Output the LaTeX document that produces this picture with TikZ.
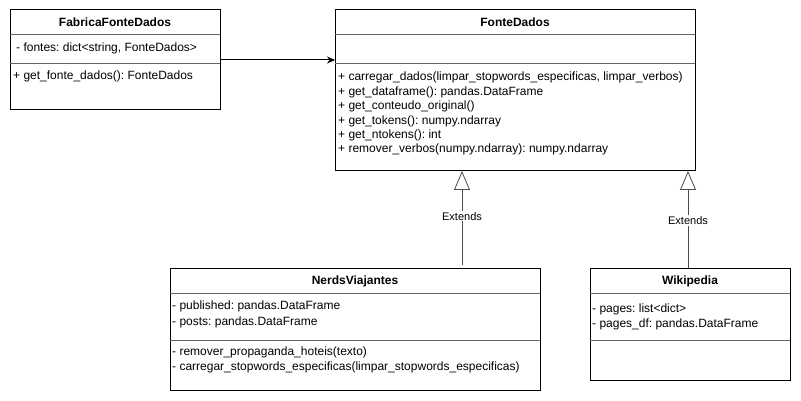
\documentclass[tikz,border=0pt]{standalone}
\usepackage{fontspec}
\setmainfont{Liberation Sans}
\usetikzlibrary{arrows.meta}
\begin{document}
\frenchspacing
\begin{tikzpicture}[x=1pt,y=-1pt,
  box/.style={draw, line width=1pt, fill=white, outer sep=0pt, anchor=north west, inner sep=0pt},
  sep/.style={draw=black!60, line width=0.7pt},
  txt/.style={font=\fontsize{12}{14.4}\selectfont, inner sep=0pt, align=left, anchor=north west},
  ttl/.style={font=\fontsize{12}{14}\selectfont\bfseries, inner sep=0pt},
  ext/.style={draw=black!70, line width=0.8pt, -{Triangle[open, width=16pt, length=19pt, line width=0.8pt]}},
  extlbl/.style={font=\fontsize{11}{13}\selectfont, fill=white, inner sep=1pt},
  assoc/.style={draw, line width=1pt, -{Stealth[length=8pt, width=7pt]}},
 ]
\useasboundingbox[fill=white] (0,0) rectangle (801,401);

% FabricaFonteDados
\node[box, minimum width=210pt, minimum height=100pt] (fab) at (10,10) {};
\node[ttl] (fabT) at (115,22) {FabricaFonteDados};
\draw[sep] ([yshift=-24pt]fab.north west) -- ([yshift=-24pt]fab.north east);
\draw[sep] ([yshift=-53pt]fab.north west) -- ([yshift=-53pt]fab.north east);
\node[txt] (fabA) at (16,43) {- fontes: dict<string, FonteDados>};
\node[txt] (fabM) at (13,71) {+ get\_fonte\_dados(): FonteDados};

% FonteDados
\node[box, minimum width=360pt, minimum height=161pt] (fon) at (335,10) {};
\node[ttl] (fonT) at (515,22) {FonteDados};
\draw[sep] ([yshift=-24pt]fon.north west) -- ([yshift=-24pt]fon.north east);
\draw[sep] ([yshift=-53pt]fon.north west) -- ([yshift=-53pt]fon.north east);
\node[txt] (fonM) at (338,72) {+ carregar\_dados(limpar\_stopwords\_especificas, limpar\_verbos)\\
+ get\_dataframe(): pandas.DataFrame\\
+ get\_conteudo\_original()\\
+ get\_tokens(): numpy.ndarray\\
+ get\_ntokens(): int\\
+ remover\_verbos(numpy.ndarray): numpy.ndarray};

% NerdsViajantes
\node[box, minimum width=370pt, minimum height=122pt] (ner) at (170,268) {};
\node[ttl] (nerT) at (355,281) {NerdsViajantes};
\draw[sep] ([yshift=-25pt]ner.north west) -- ([yshift=-25pt]ner.north east);
\draw[sep] ([yshift=-72pt]ner.north west) -- ([yshift=-72pt]ner.north east);
\node[txt, font=\fontsize{12}{16}\selectfont] (nerA) at (172,301) {- published: pandas.DataFrame\\- posts: pandas.DataFrame};
\node[txt] (nerM) at (172,347) {- remover\_propaganda\_hoteis(texto)\\- carregar\_stopwords\_especificas(limpar\_stopwords\_especificas)};

% Wikipedia
\node[box, minimum width=200pt, minimum height=112pt] (wik) at (590,268) {};
\node[ttl] (wikT) at (690,281) {Wikipedia};
\draw[sep] ([yshift=-25pt]wik.north west) -- ([yshift=-25pt]wik.north east);
\draw[sep] ([yshift=-72pt]wik.north west) -- ([yshift=-72pt]wik.north east);
\node[txt] (wikA) at (592,304) {- pages: list<dict>\\- pages\_df: pandas.DataFrame};

% association
\draw[assoc] (fab.east) -- (fab.east -| fon.west);

% extends
\coordinate (e1) at (462,265);
\coordinate (e2) at (688,268);
\draw[ext] (e1) -- (e1 |- fon.south) node[extlbl, pos=0.52] (l1) {Extends};
\draw[ext] (e2) -- (e2 |- fon.south) node[extlbl, pos=0.49] (l2) {Extends};
\end{tikzpicture}
\end{document}
